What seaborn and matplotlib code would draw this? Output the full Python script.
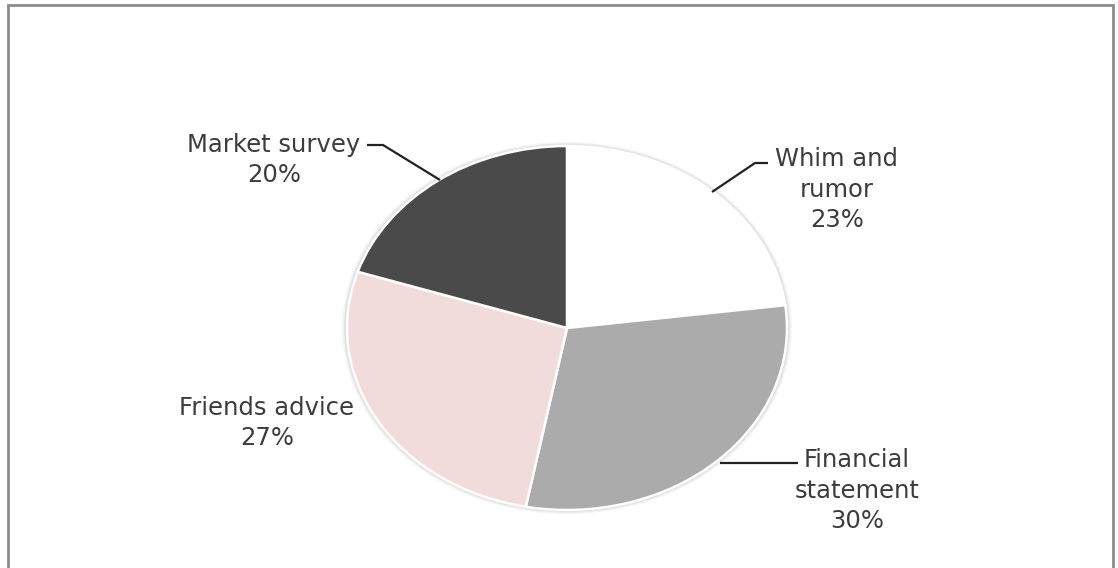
import matplotlib
matplotlib.use("Agg")
import matplotlib.pyplot as plt
from matplotlib.patches import Ellipse, Rectangle
import seaborn as sns

# Sources of investment information (share of respondents)
categories = ["Whim and\nrumor", "Financial\nstatement", "Friends advice", "Market survey"]
shares = [23, 30, 27, 20]
slice_colors = ["#ffffff", "#ababab", "#f2dcdb", "#4a4a4a"]

sns.set_theme(style="white")
plt.rcParams["font.family"] = ["DejaVu Sans"]

W, H = 1118, 568
fig = plt.figure(figsize=(W / 100, H / 100), dpi=100)
fig.patch.set_facecolor("white")

# pie centre and radii in pixels (the pie is drawn as an ellipse)
cx, cy, rx, ry = 567, 328, 220, 182

def px(x, y):
    """Convert pixel position (from top-left) to data coordinates."""
    return (x - cx) / rx, (cy - y) / ry

ax = fig.add_axes([0, 0, 1, 1])

# soft shadow around the pie
for r, a in [(1.022, 0.10), (1.014, 0.16), (1.007, 0.25)]:
    ax.add_patch(Ellipse((0, 0), 2 * r, 2 * r, facecolor="#9a9a9a",
                         edgecolor="none", alpha=a, zorder=0))

ax.pie(shares, colors=slice_colors, startangle=90, counterclock=False,
       radius=1.0, wedgeprops=dict(edgecolor="white", linewidth=1.8),
       normalize=True)
ax.set_aspect("auto")
ax.set_xlim(px(0, 0)[0], px(W, 0)[0])
ax.set_ylim(px(0, H)[1], px(0, 0)[1])
ax.axis("off")

# label text: "name\nvalue%", anchored on the baseline of the last line
label_pos = [(837, 227), (857, 528), (267, 445), (274, 182)]
for name, val, (lx, ly) in zip(categories, shares, label_pos):
    x, y = px(lx, ly)
    ax.text(x, y, f"{name}\n{val}%", ha="center", va="baseline",
            fontsize=17.5, color="#3c3c3c", linespacing=1.33, zorder=5)

# leader lines
leaders = [
    [(768, 163), (755, 163), (712, 192)],
    [(798, 463), (720, 463)],
    [(367, 145), (383, 145), (440, 180)],
]
for pts in leaders:
    xs, ys = zip(*[px(a, b) for a, b in pts])
    ax.plot(xs, ys, color="#222222", linewidth=1.6, solid_capstyle="butt", zorder=4)

# chart-area frame
fig.add_artist(Rectangle((8 / W, -0.05), (1113 - 8) / W, 1.05 - 5 / H,
                         transform=fig.transFigure, fill=False,
                         edgecolor="#8c8c8c", linewidth=2.0))

fig.savefig("out.png", dpi=100, facecolor="white")
